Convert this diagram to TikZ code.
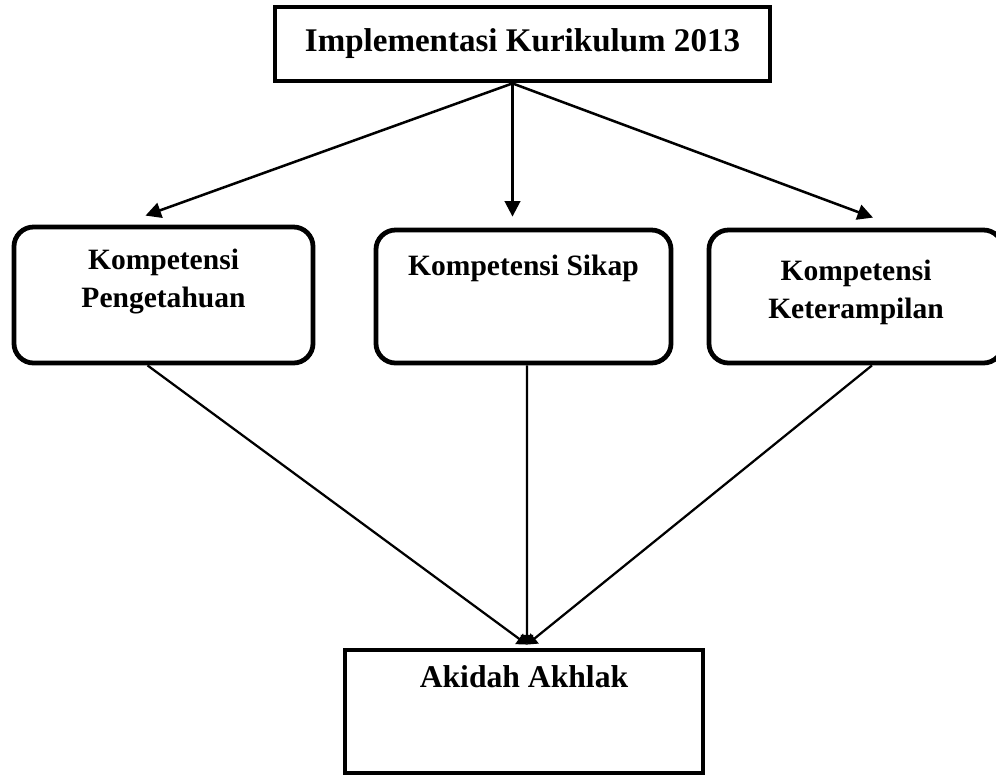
\documentclass[tikz,border=0pt]{standalone}
\usepackage{fontspec}
\setmainfont{Liberation Serif}
\usetikzlibrary{arrows.meta,calc}

\begin{document}
\begin{tikzpicture}[x=0.025cm, y=-0.025cm,
    kotak/.style={draw, line width=3.4pt, inner sep=0pt},
    bulat/.style={kotak, rounded corners=14pt},
    teks/.style={font=\fontsize{21}{27}\selectfont\bfseries, align=center, inner sep=0pt},
    panah/.style={line width=1.8pt, -{Triangle[length=11pt,width=11pt]}},
    garis/.style={line width=1.6pt, -{Triangle[length=7pt,width=9pt]}}]
    \useasboundingbox (0,0) rectangle (996,777);

    \node[kotak, minimum width=12.375cm, minimum height=1.85cm,
      font=\fontsize{23.5}{27}\selectfont\bfseries] (impl) at (522.5,44) {Implementasi Kurikulum 2013};

    \node[bulat, minimum width=7.475cm, minimum height=3.4cm,
      label={[teks, anchor=north, yshift=-0.6cm]north:Kompetensi\\Pengetahuan}] (peng) at (163.5,295) {};
    \node[bulat, minimum width=7.375cm, minimum height=3.325cm,
      label={[teks, anchor=north, yshift=-0.68cm]north:Kompetensi Sikap}] (sikap) at (523.5,296.5) {};
    \node[bulat, minimum width=7.35cm, minimum height=3.325cm,
      label={[teks, anchor=north, yshift=-0.8cm]north:Kompetensi\\Keterampilan}] (ketr) at (856,296.5) {};

    \node[kotak, minimum width=8.95cm, minimum height=3.075cm,
      label={[teks, font=\fontsize{22.5}{27}\selectfont\bfseries, anchor=north, yshift=-0.45cm]north:Akidah Akhlak}] (akidah) at (524,711.5) {};

    % dari judul ke tiga kompetensi
    \coordinate (pangkal) at ($(impl.south)+(-10,0)$);
    \draw[panah] (pangkal) -- ($(peng.north)+(-18,-9)$);
    \draw[panah] (pangkal) -- ($(sikap.north)+(-11,-11)$);
    \draw[panah] (pangkal) -- ($(ketr.north)+(17,-10)$);

    % dari kompetensi ke akidah akhlak
    \coordinate (temu) at ($(akidah.north)+(3,-3)$);
    \draw[garis] ($(peng.south)+(-16,0)$) -- (temu);
    \draw[garis] ($(sikap.south)+(3.5,0)$) -- (temu);
    \draw[garis] ($(ketr.south)+(16,0)$) -- (temu);

  \end{tikzpicture}
\end{document}
